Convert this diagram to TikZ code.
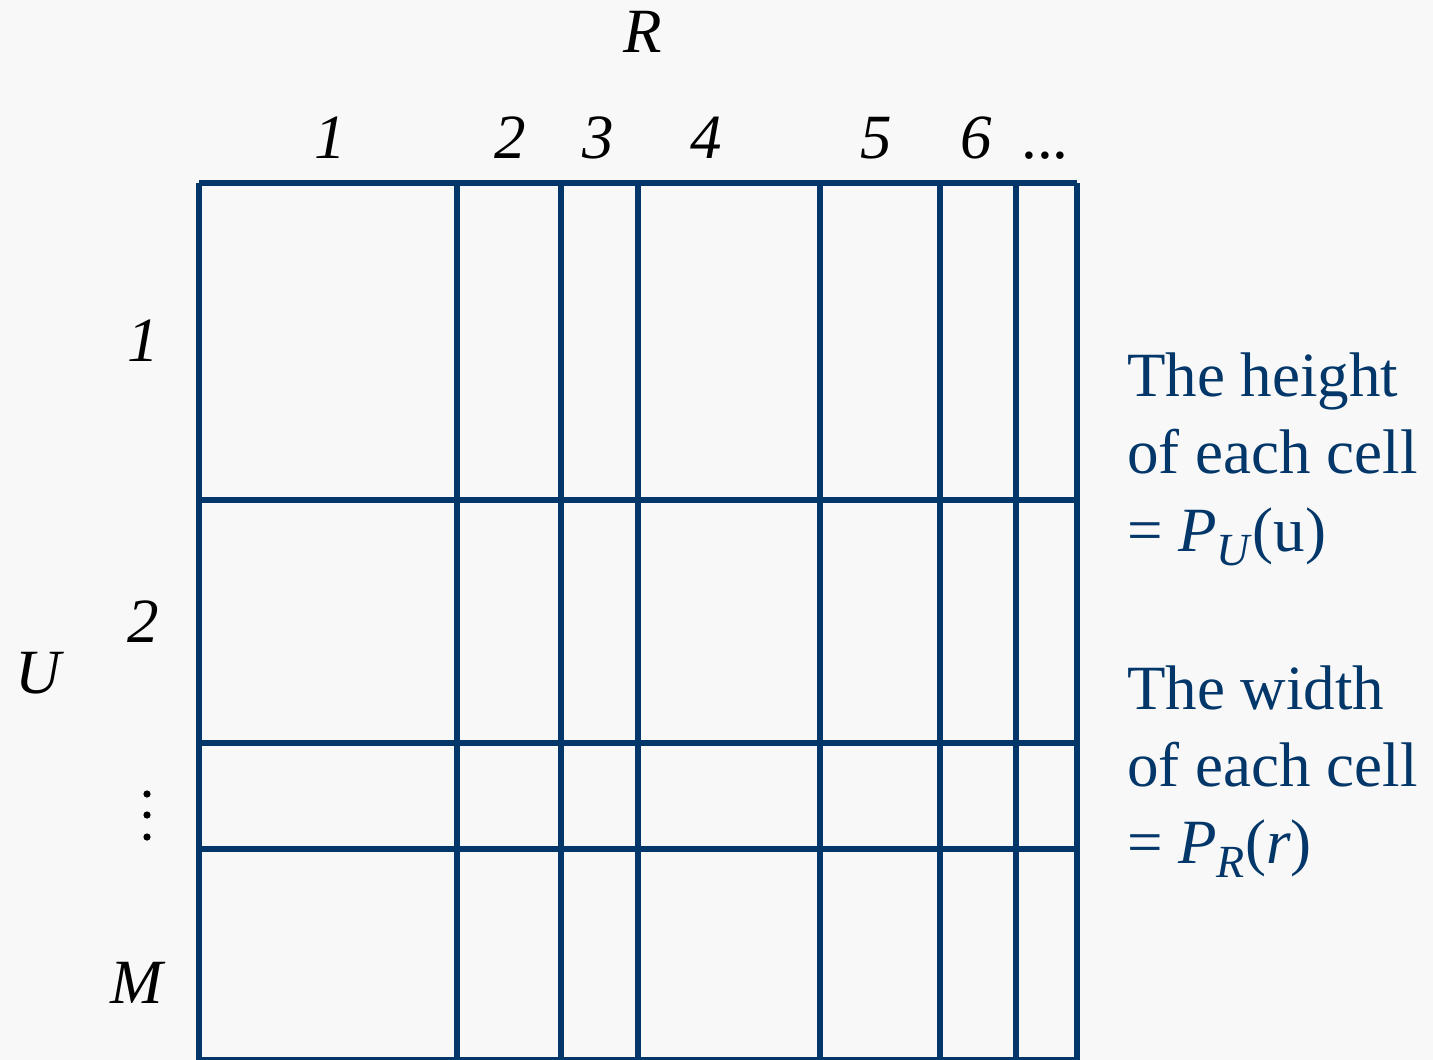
\documentclass[tikz,border=0pt]{standalone}
\usepackage{fontspec}
\setmainfont{Liberation Serif}[ItalicFont={Liberation Serif Italic}]
\definecolor{gridblue}{RGB}{3,55,105}
\definecolor{bg}{RGB}{248,248,248}
\newcommand{\sbx}[1]{\raisebox{-14pt}{\fontsize{46}{46}\selectfont\textit{#1}}}
\begin{document}
\begin{tikzpicture}[x=1pt,y=-1pt,
  gridline/.style={draw=gridblue,line width=6pt},
  lbl/.style={anchor=base,inner sep=0pt,font=\fontsize{63}{75}\selectfont\itshape},
  note/.style={anchor=base west,inner sep=0pt,text=gridblue,font=\fontsize{63}{75}\selectfont}]
\fill[bg] (0,0) rectangle (1433,1060);
\useasboundingbox (0,0) rectangle (1433,1060);
% grid
\foreach \x in {199,457,561,638,820,940,1016,1077}
  \draw[gridline] (\x,183) -- (\x,1063);
\foreach \y in {183,500,743,849,1060}
  \draw[gridline] (199,\y) -- (1077,\y);
% labels
\node[lbl] (R) at (643,52) {R};
\node[lbl] (c1) at (330,158) {1};
\node[lbl] (c2) at (510,158) {2};
\node[lbl] (c3) at (598,158) {3};
\node[lbl] (c4) at (706,158) {4};
\node[lbl] (c5) at (876,158) {5};
\node[lbl] (c6) at (976,158) {6};
\node[lbl,font=\fontsize{63}{75}\selectfont] (cd) at (1045,158) {...};
\node[lbl] (r1) at (143,361) {1};
\node[lbl] (r2) at (143,642) {2};
\node[lbl] (U) at (38,693) {U};
\node[lbl] (rM) at (137,1003) {M};
\foreach \y in {794,815,837}
  \fill (147,\y) circle (3.6pt);
% notes
\node[note] (h1) at (1127,396) {The height};
\node[note] (h2) at (1127,473) {of each cell};
\node[note] (h3) at (1127,551) {= \textit{P}\sbx{U}(u)};
\node[note] (w1) at (1127,709) {The width};
\node[note] (w2) at (1127,786) {of each cell};
\node[note] (w3) at (1127,863) {= \textit{P}\sbx{R}(\textit{r})};
\end{tikzpicture}
\end{document}
